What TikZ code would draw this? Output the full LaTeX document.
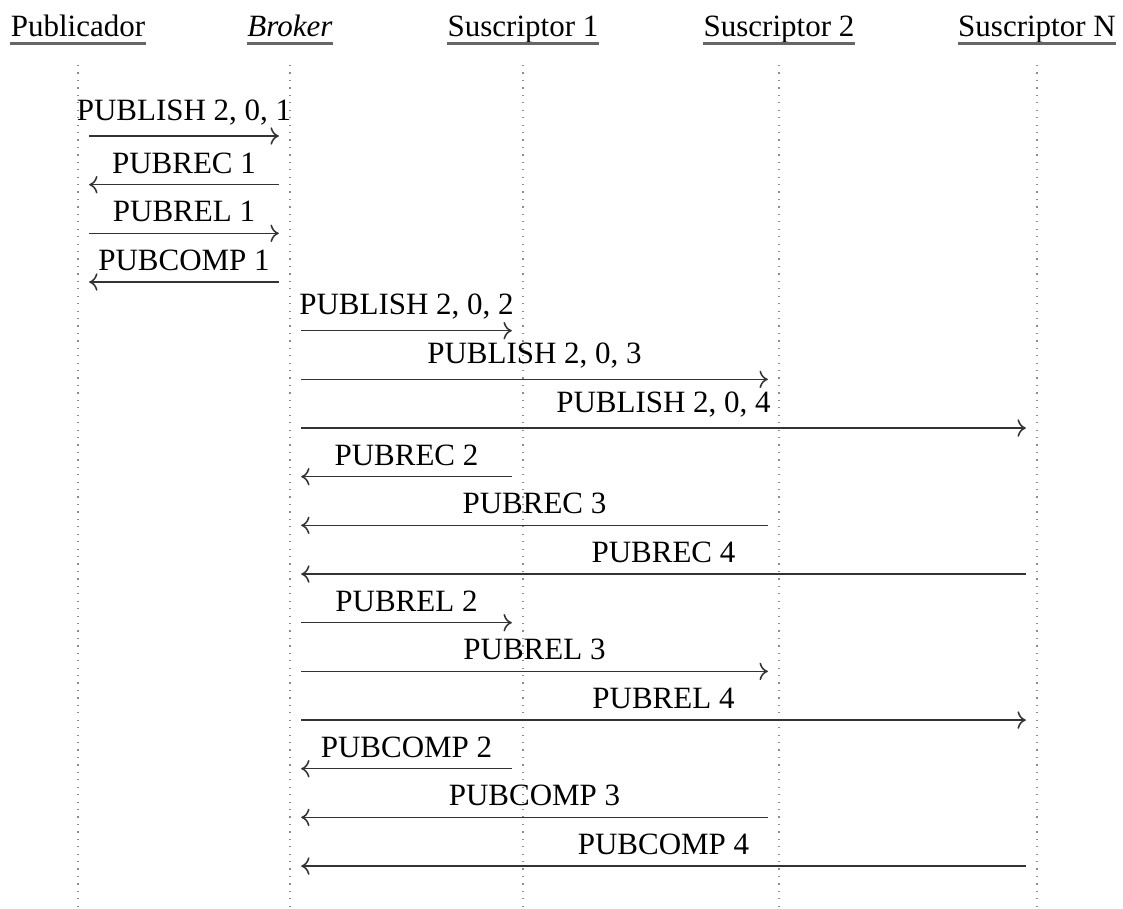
\documentclass[tikz,border=0pt]{standalone}
\usepackage{fontspec}
\setmainfont{Liberation Serif}
\usetikzlibrary{arrows.meta}
\tikzset{
  actor/.style = {inner sep=0pt, anchor=base, font=\fontsize{10}{12}\selectfont},
  uline/.style = {draw=black!60, line width=0.9pt},
  life/.style  = {draw=black!45, dotted, line width=0.4pt},
  msg/.style   = {->, draw=black!80, line width=0.5pt,
                  shorten <=3.6pt, shorten >=3.6pt},
  lbl/.style   = {font=\fontsize{10}{12}\selectfont, text=black},
}
\begin{document}
\begin{tikzpicture}[x=0.3226pt, y=-0.3226pt]
\useasboundingbox (0,0) rectangle (1123,908);

% ---------------- participants and lifelines ------------------------
\foreach \n/\x/\t in {pub/78/Publicador, brk/290/\textit{Broker},
                      sa/523/Suscriptor 1, sb/779/Suscriptor 2, sn/1037/Suscriptor N} {
  \node[actor] (h\n) at (\x,36) {\t};
  \draw[uline] ([yshift=-2.4pt]h\n.base west) -- ([yshift=-2.4pt]h\n.base east);
  \coordinate (\n) at (\x,65);
  \draw[life] (\n) -- ++(0,843);
}

% ---------------- messages -------------------------------------------
\foreach \a/\b/\t [count=\i] in {
    pub/brk/{PUBLISH 2, 0, 1}, brk/pub/{PUBREC 1},
    pub/brk/{PUBREL 1},        brk/pub/{PUBCOMP 1},
    brk/sa/{PUBLISH 2, 0, 2},  brk/sb/{PUBLISH 2, 0, 3}, brk/sn/{PUBLISH 2, 0, 4},
    sa/brk/{PUBREC 2},         sb/brk/{PUBREC 3},        sn/brk/{PUBREC 4},
    brk/sa/{PUBREL 2},         brk/sb/{PUBREL 3},        brk/sn/{PUBREL 4},
    sa/brk/{PUBCOMP 2},        sb/brk/{PUBCOMP 3},       sn/brk/{PUBCOMP 4}} {
  \pgfmathsetmacro\y{136+(\i-1)*48.67}
  \coordinate (m\i) at (0,\y);
  \draw[msg] (\a |- m\i) -- (\b |- m\i) node[lbl, midway, above] (l\i) {\t};
}

\end{tikzpicture}
\end{document}
